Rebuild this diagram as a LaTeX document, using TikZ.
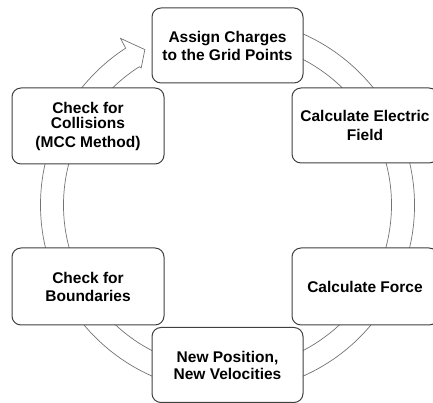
\documentclass[tikz,border=0pt]{standalone}
\usepackage{fontspec}
\setmainfont{Liberation Sans}
\begin{document}
\begin{tikzpicture}[x=1pt,y=1pt,
  stepbox/.style={draw=black!75, line width=1pt, fill=white, rounded corners=9pt,
    align=center, inner sep=0pt, font=\fontsize{15.5}{18}\selectfont\bfseries},
  ringline/.style={draw=black!55, line width=0.7pt, fill=white, line join=miter}]
\useasboundingbox (0,0) rectangle (433,403);
\clip (0,0) rectangle (433,403);
\begin{scope}[shift={(227.5,198)}]
\draw[ringline] (100:187) arc[start angle=100, end angle=-237, radius=187]
  -- (-237.3:198) -- (-242:176) -- (-237.8:162) -- (-237.5:164)
  arc[start angle=-237.5, end angle=100, radius=164] -- cycle;
\end{scope}
\node[stepbox, minimum width=151pt, minimum height=75pt] (assign) at (227.5,357.5)
  {Assign Charges\\to the Grid Points};
\node[stepbox, minimum width=146pt, minimum height=75pt] (field) at (365,277.5)
  {Calculate Electric\\[1pt]Field};
\node[stepbox, minimum width=146pt, minimum height=77pt] (force) at (365,116.5)
  {Calculate Force};
\node[stepbox, minimum width=151pt, minimum height=75pt] (newpos) at (227.5,38)
  {New Position,\\[-1pt]New Velocities};
\node[stepbox, minimum width=152pt, minimum height=77pt] (bound) at (88,116.5)
  {Check for\\Boundaries};
\node[stepbox, minimum width=152pt, minimum height=76pt] (coll) at (88,277)
  {Check for\\[-3pt]Collisions\\[1pt](MCC Method)};
\end{tikzpicture}
\end{document}
